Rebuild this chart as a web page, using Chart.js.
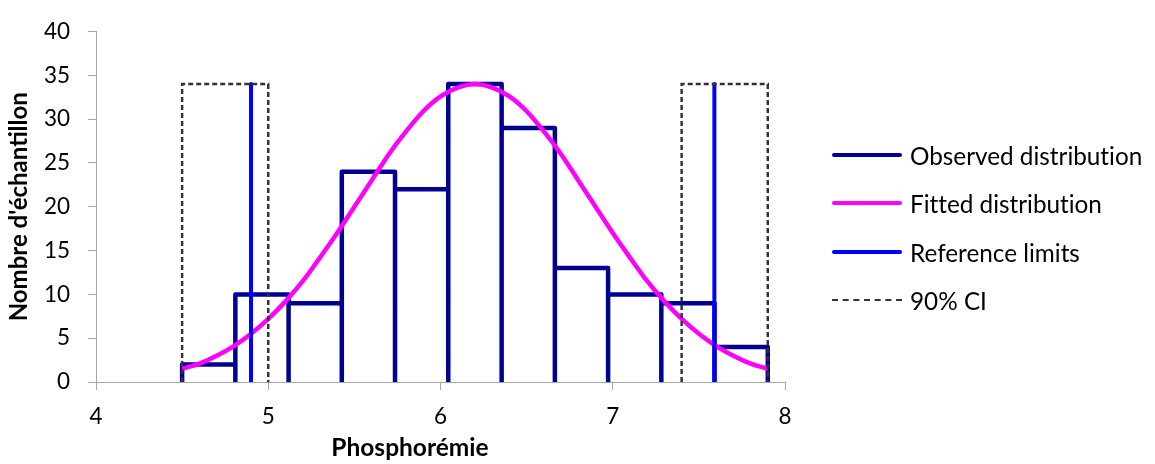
<!DOCTYPE html>
<html>
<head>
<meta charset="utf-8">
<script src="https://cdn.jsdelivr.net/npm/chart.js@4"></script>
<style>
  html, body { margin: 0; padding: 0; background: #ffffff; }
  #wrap { position: relative; width: 1155px; height: 464px; overflow: hidden; }
  #legend { position: absolute; left: 832px; top: 0; font-family: Lato, "Open Sans", sans-serif; font-size: 24.3px; color: #000;
            font-variant-ligatures: none; font-feature-settings: "liga" 0, "clig" 0; }
  .item { position: absolute; left: 0; height: 30px; display: flex; align-items: center; white-space: nowrap; }
  .swatch { width: 70px; margin-right: 8px; }
  #xtitle { position: absolute; top: 432px; width: 300px; left: 260px; text-align: center;
            font-family: Lato, "Open Sans", sans-serif; font-size: 24.5px; font-weight: bold; color: #000; line-height: 30px; }
</style>
</head>
<body>
<div id="wrap">
  <canvas id="c" width="1155" height="464"></canvas>
  <div id="legend"></div>
  <div id="xtitle"></div>
</div>
<script>
// ---- data ----
const binEdges = [4.5, 4.809, 5.118, 5.427, 5.736, 6.045, 6.355, 6.664, 6.973, 7.282, 7.591, 7.9];
const binCounts = [2, 10, 9, 24, 22, 34, 29, 13, 10, 9, 4];

const fitX = [4.5, 4.6, 4.7, 4.8, 4.9, 5.0, 5.1, 5.2, 5.3, 5.4, 5.5, 5.6, 5.7, 5.8, 5.9, 6.0, 6.1, 6.2,
              6.3, 6.4, 6.5, 6.6, 6.7, 6.8, 6.9, 7.0, 7.1, 7.2, 7.3, 7.4, 7.5, 7.6, 7.7, 7.8, 7.9];
const fitY = [1.5, 2.1, 3.0, 4.1, 5.5, 7.2, 9.2, 11.5, 14.2, 17.0, 20.0, 23.0, 26.0, 28.6, 30.9, 32.6, 33.6, 34.0,
              33.6, 32.6, 30.9, 28.6, 26.0, 23.0, 20.0, 17.0, 14.2, 11.5, 9.2, 7.2, 5.5, 4.1, 3.0, 2.1, 1.5];

const refLimits = [4.9, 7.59];
const refHeight = 34;
const ciLow = [4.5, 5.0];
const ciHigh = [7.4, 7.9];
const ciHeight = 34;

const xTicks = [4, 5, 6, 7, 8];
const yTicks = [0, 5, 10, 15, 20, 25, 30, 35, 40];

const seriesNames = ['Observed distribution', 'Fitted distribution', 'Reference limits', '90% CI'];
const xTitle = 'Phosphorémie';
const yTitle = "Nombre d'échantillon";

// ---- build point lists from the arrays ----
const histPts = [];
for (let i = 0; i < binCounts.length; i++) {
  histPts.push({x: binEdges[i], y: 0});
  histPts.push({x: binEdges[i], y: binCounts[i]});
  histPts.push({x: binEdges[i + 1], y: binCounts[i]});
  histPts.push({x: binEdges[i + 1], y: 0});
}
const fitPts = fitX.map((x, i) => ({x: x, y: fitY[i]}));
const refPts = [];
refLimits.forEach((x, i) => {
  if (i > 0) refPts.push({x: x, y: null});
  refPts.push({x: x, y: 0});
  refPts.push({x: x, y: refHeight});
});
const ciPts = [];
[ciLow, ciHigh].forEach((r, i) => {
  if (i > 0) ciPts.push({x: r[0], y: null});
  ciPts.push({x: r[0], y: 0});
  ciPts.push({x: r[0], y: ciHeight});
  ciPts.push({x: r[1], y: ciHeight});
  ciPts.push({x: r[1], y: 0});
});

const colors = {obs: '#000093', fit: '#FF00FF', ref: '#0000FF', ci: '#333333'};
const FONT = 'Lato, "Open Sans", sans-serif';
const axisGray = '#A6A6A6';

const chart = new Chart(document.getElementById('c'), {
  type: 'line',
  data: {
    datasets: [
      {label: seriesNames[3], data: ciPts, borderColor: colors.ci, borderWidth: 2.5, borderDash: [5, 3],
       pointRadius: 0, tension: 0, spanGaps: false, order: 0, fill: false},
      {label: seriesNames[2], data: refPts, borderColor: colors.ref, borderWidth: 4,
       pointRadius: 0, tension: 0, spanGaps: false, order: 1, fill: false, borderCapStyle: 'round'},
      {label: seriesNames[1], data: fitPts, borderColor: colors.fit, borderWidth: 4.5,
       pointRadius: 0, cubicInterpolationMode: 'monotone', order: 2, fill: false},
      {label: seriesNames[0], data: histPts, borderColor: colors.obs, borderWidth: 4.5, borderJoinStyle: 'round',
       borderCapStyle: 'round', pointRadius: 0, tension: 0, order: 3, fill: false}
    ]
  },
  options: {
    responsive: false,
    animation: false,
    events: [],
    layout: {padding: {left: 0, right: 370, top: 22, bottom: 0}},
    plugins: {legend: {display: false}, tooltip: {enabled: false}},
    scales: {
      x: {
        type: 'linear', min: 4, max: 8,
        afterBuildTicks: (s) => { s.ticks = xTicks.map(v => ({value: v})); },
        afterFit: (s) => { s.height = 82; },
        grid: {drawOnChartArea: false, drawTicks: true, tickLength: 8, color: axisGray, lineWidth: 1},
        border: {color: axisGray, width: 1},
        ticks: {color: '#000', font: {family: FONT, size: 22.5}, padding: 13, maxRotation: 0},
        title: {display: false}
      },
      y: {
        type: 'linear', min: 0, max: 40,
        afterBuildTicks: (s) => { s.ticks = yTicks.map(v => ({value: v})); },
        afterFit: (s) => { s.width = 96; },
        grid: {drawOnChartArea: false, drawTicks: true, tickLength: 8, color: axisGray, lineWidth: 1},
        border: {color: axisGray, width: 1},
        ticks: {color: '#000', font: {family: FONT, size: 22.5}, padding: 18},
        title: {display: true, text: yTitle, color: '#000', font: {family: FONT, size: 24, weight: 'bold'},
                padding: {top: 5, bottom: 0}}
      }
    }
  }
});

document.getElementById('xtitle').textContent = xTitle;

// ---- legend (HTML, real text) ----
const legendY = [155, 203, 252, 300];
const legendStyles = [
  {c: colors.obs, w: 4.5, dash: false},
  {c: colors.fit, w: 4.5, dash: false},
  {c: colors.ref, w: 4.5, dash: false},
  {c: colors.ci, w: 2, dash: true}
];
const leg = document.getElementById('legend');
seriesNames.forEach((name, i) => {
  const it = document.createElement('div');
  it.className = 'item';
  it.style.top = (legendY[i] - 15) + 'px';
  const sw = document.createElement('div');
  sw.className = 'swatch';
  const st = legendStyles[i];
  if (st.dash) {
    sw.style.height = '0';
    sw.style.borderTop = st.w + 'px dashed ' + st.c;
  } else {
    sw.style.height = st.w + 'px';
    sw.style.background = st.c;
    sw.style.borderRadius = '2px';
  }
  const tx = document.createElement('span');
  tx.textContent = name;
  it.appendChild(sw);
  it.appendChild(tx);
  leg.appendChild(it);
});
</script>
</body>
</html>
